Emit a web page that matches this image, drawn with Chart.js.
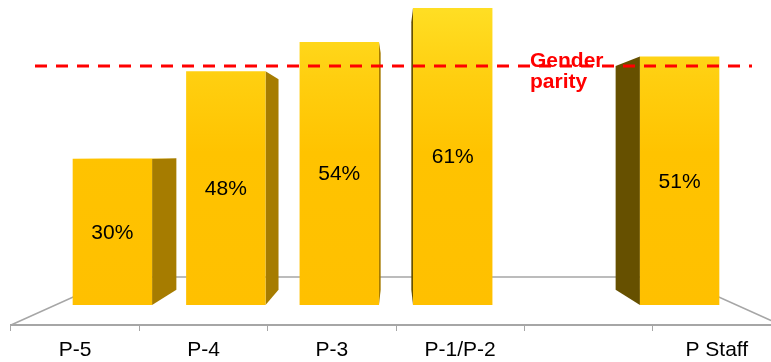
<!DOCTYPE html>
<html>
<head>
<meta charset="utf-8">
<script src="https://cdn.jsdelivr.net/npm/chart.js@4.4.1/dist/chart.umd.min.js"></script>
<style>
  html, body { margin: 0; padding: 0; background: #fff; overflow: hidden; }
  #wrap { width: 790px; height: 362px; }
</style>
</head>
<body>
<div id="wrap"><canvas id="grades-chart" width="790" height="362"></canvas></div>
<script>
/* Share of women by grade — 3D-look bars with gender parity line */

const categories = ['P-5', 'P-4', 'P-3', 'P-1/P-2', '', 'P Staff'];
const womenShare = [30, 48, 54, 61, null, 51];
const parityValue = 50;
const parityText = ['Gender', 'parity'];

// perspective: front of bars, back of bars, parity plane, floor back edge
const S_FRONT = 0.884;
const S_BACK = 0.796;
const S_PARITY = 0.84;
const S_FLOOR = 0.723;

function project(vp, x, y, s) {
    return [vp.x + (x - vp.x) * s, vp.y + (y - vp.y) * s];
}

function poly(ctx, pts, fill) {
    ctx.beginPath();
    ctx.moveTo(pts[0][0], pts[0][1]);
    for (let i = 1; i < pts.length; i++) ctx.lineTo(pts[i][0], pts[i][1]);
    ctx.closePath();
    ctx.fillStyle = fill;
    ctx.fill();
}

const bars3d = {
    id: 'bars3d',
    beforeDatasetsDraw(chart) {
        const ctx = chart.ctx;
        const a = chart.chartArea;
        const vp = { x: (a.left + a.right) / 2, y: a.bottom - 173 };
        const bl = project(vp, a.left, a.bottom, S_FLOOR);
        const br = project(vp, a.right, a.bottom, S_FLOOR);
        ctx.save();
        ctx.strokeStyle = '#a6a6a6';
        ctx.lineWidth = 1.5;
        ctx.beginPath();
        ctx.moveTo(a.left, a.bottom);
        ctx.lineTo(bl[0], bl[1]);
        ctx.lineTo(br[0], br[1]);
        ctx.lineTo(a.right, a.bottom);
        ctx.stroke();
        ctx.restore();
    },
    afterDatasetsDraw(chart) {
        const ctx = chart.ctx;
        const a = chart.chartArea;
        const vp = { x: (a.left + a.right) / 2, y: a.bottom - 173 };
        const meta = chart.getDatasetMeta(0);

        const grad = ctx.createLinearGradient(0, 0, 0, a.bottom - 20);
        grad.addColorStop(0, '#ffe026');
        grad.addColorStop(0.25, '#ffcf10');
        grad.addColorStop(0.5, '#ffc300');
        grad.addColorStop(1, '#ffc000');

        ctx.save();
        meta.data.forEach((bar, i) => {
            if (womenShare[i] == null) return;
            const p = bar.getProps(['x', 'y', 'base', 'width'], true);
            const L = p.x - p.width / 2, R = p.x + p.width / 2;
            const fTL = project(vp, L, p.y, S_FRONT), fTR = project(vp, R, p.y, S_FRONT);
            const fBL = project(vp, L, p.base, S_FRONT), fBR = project(vp, R, p.base, S_FRONT);
            const bTL = project(vp, L, p.y, S_BACK), bTR = project(vp, R, p.y, S_BACK);
            const bBL = project(vp, L, p.base, S_BACK), bBR = project(vp, R, p.base, S_BACK);

            // side face
            if ((fTL[0] + fTR[0]) / 2 < vp.x) {
                poly(ctx, [fTR, bTR, bBR, fBR], '#a67c00');
            } else {
                poly(ctx, [fTL, bTL, bBL, fBL], '#665000');
            }
            // top face (only when below eye level)
            if (fTL[1] > vp.y) poly(ctx, [fTL, fTR, bTR, bTL], '#ffd54a');
            // front face
            poly(ctx, [fTL, fTR, fBR, fBL], grad);

            ctx.fillStyle = '#000';
            ctx.font = '21px "Liberation Sans", Arial, sans-serif';
            ctx.textAlign = 'center';
            ctx.textBaseline = 'middle';
            ctx.fillText(womenShare[i] + '%', (fTL[0] + fTR[0]) / 2, (fTL[1] + fBL[1]) / 2 + 1);
        });

        // gender parity line
        const yv = chart.scales.y.getPixelForValue(parityValue);
        const py = project(vp, 0, yv, S_PARITY)[1];
        ctx.strokeStyle = '#ff0000';
        ctx.lineWidth = 3;
        ctx.setLineDash([12, 9]);
        ctx.beginPath();
        ctx.moveTo(35, py);
        ctx.lineTo(752, py);
        ctx.stroke();
        ctx.setLineDash([]);

        ctx.fillStyle = '#ff0000';
        ctx.font = 'bold 21px "Liberation Sans", Arial, sans-serif';
        ctx.textAlign = 'left';
        ctx.textBaseline = 'alphabetic';
        ctx.fillText(parityText[0], 530, py + 1);
        ctx.fillText(parityText[1], 530, py + 22);
        ctx.restore();
    }
};

new Chart(document.getElementById('grades-chart').getContext('2d'), {
    type: 'bar',
    data: {
        labels: categories,
        datasets: [{
            data: womenShare,
            backgroundColor: 'transparent',
            borderWidth: 0,
            barPercentage: 0.7,
            categoryPercentage: 1.0,
        }]
    },
    options: {
        responsive: false,
        animation: false,
        layout: { padding: { left: 11, right: 9, top: 0, bottom: 0 } },
        plugins: { legend: { display: false }, tooltip: { enabled: false } },
        scales: {
            x: {
                afterFit: s => { s.height = 37; },
                grid: { drawOnChartArea: false, drawTicks: true, tickLength: 6, color: '#a6a6a6', lineWidth: 1 },
                border: { color: '#a6a6a6', width: 2 },
                ticks: { color: '#000', padding: 7, font: { family: '"Liberation Sans", Arial, sans-serif', size: 21 } }
            },
            y: { display: false, min: 0, max: 59 }
        }
    },
    plugins: [bars3d]
});
</script>
</body>
</html>
